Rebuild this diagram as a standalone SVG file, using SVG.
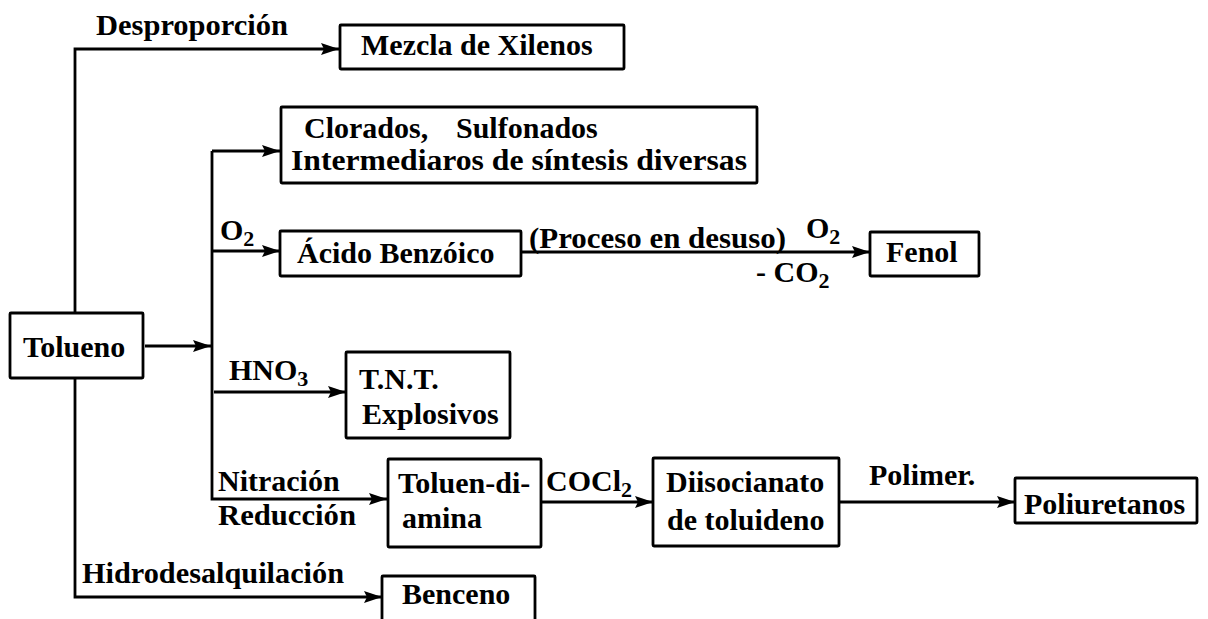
<svg xmlns="http://www.w3.org/2000/svg" width="1208" height="619" viewBox="0 0 1208 619">
<defs>
<style>
.box{fill:#fff;stroke:#000;stroke-width:2.8}
.t{font-family:"Liberation Serif","Times New Roman",serif;font-weight:bold;font-size:30px;fill:#000}
.sub{font-size:22px}
.ln{fill:none;stroke:#000;stroke-width:2.8}
.arr{marker-end:url(#ah)}
</style>
<marker id="ah" markerUnits="userSpaceOnUse" markerWidth="19" markerHeight="13" refX="18" refY="6.5" orient="auto">
<path d="M0,0.5 L18,6.5 L0,12.5 L3,6.5 Z" fill="#000"/>
</marker>
</defs>
<rect width="1208" height="619" fill="#fff"/>
<g id="connectors">
<path class="ln arr" d="M75,312 V49 H339"/>
<path class="ln arr" d="M145,346 H211"/>
<path class="ln arr" d="M212,151 V499 H387"/>
<path class="ln arr" d="M212,151 H280"/>
<path class="ln arr" d="M212,251 H280"/>
<path class="ln arr" d="M214,392 H346"/>
<path class="ln arr" d="M521,252 H870"/>
<path class="ln arr" d="M541,502 H653"/>
<path class="ln arr" d="M839,502 H1015"/>
<path class="ln arr" d="M75,377 V597 H382"/>
</g>
<g id="labels">
<text class="t" x="96" y="35" textLength="192" lengthAdjust="spacingAndGlyphs">Desproporción</text>
<text class="t" x="220" y="240">O<tspan class="sub" dy="6">2</tspan></text>
<text class="t" x="529" y="248" textLength="257" lengthAdjust="spacingAndGlyphs">(Proceso en desuso)</text>
<text class="t" x="806" y="238">O<tspan class="sub" dy="6">2</tspan></text>
<text class="t" x="756" y="282">- CO<tspan class="sub" dy="6">2</tspan></text>
<text class="t" x="229" y="380">HNO<tspan class="sub" dy="6">3</tspan></text>
<text class="t" x="218" y="491">Nitración</text>
<text class="t" x="218" y="525" textLength="138" lengthAdjust="spacingAndGlyphs">Reducción</text>
<text class="t" x="546" y="491">COCl<tspan class="sub" dy="6">2</tspan></text>
<text class="t" x="869" y="485">Polimer.</text>
<text class="t" x="82" y="583" textLength="262" lengthAdjust="spacingAndGlyphs">Hidrodesalquilación</text>
</g>
<g id="mezcla">
<rect class="box" x="340" y="25" width="284" height="44" rx="1"/>
<text class="t" x="361" y="55">Mezcla de Xilenos</text>
</g>
<g id="clorados">
<rect class="box" x="281" y="107" width="476" height="76" rx="1"/>
<text class="t" x="304" y="138">Clorados,</text>
<text class="t" x="456" y="138">Sulfonados</text>
<text class="t" x="291" y="170" textLength="456" lengthAdjust="spacingAndGlyphs">Intermediaros de síntesis diversas</text>
</g>
<g id="acido">
<rect class="box" x="280" y="231" width="241" height="45" rx="1"/>
<text class="t" x="297" y="263">Ácido Benzóico</text>
</g>
<g id="fenol">
<rect class="box" x="870" y="232" width="109" height="44" rx="1"/>
<text class="t" x="886" y="262">Fenol</text>
</g>
<g id="tolueno">
<rect class="box" x="10" y="313" width="133" height="65" rx="1"/>
<text class="t" x="23" y="357">Tolueno</text>
</g>
<g id="tnt">
<rect class="box" x="346" y="352" width="164" height="86" rx="1"/>
<text class="t" x="359" y="389">T.N.T.</text>
<text class="t" x="362" y="424">Explosivos</text>
</g>
<g id="toluendiamina">
<rect class="box" x="388" y="459" width="153" height="88" rx="1"/>
<text class="t" x="398" y="493">Toluen-di-</text>
<text class="t" x="402" y="528">amina</text>
</g>
<g id="diisocianato">
<rect class="box" x="653" y="458" width="186" height="88" rx="1"/>
<text class="t" x="666" y="492">Diisocianato</text>
<text class="t" x="667" y="530">de toluideno</text>
</g>
<g id="poliuretanos">
<rect class="box" x="1015" y="478" width="182" height="45" rx="1"/>
<text class="t" x="1024" y="514">Poliuretanos</text>
</g>
<g id="benceno">
<rect class="box" x="382" y="576" width="153" height="48" rx="1"/>
<text class="t" x="402" y="604">Benceno</text>
</g>
</svg>
